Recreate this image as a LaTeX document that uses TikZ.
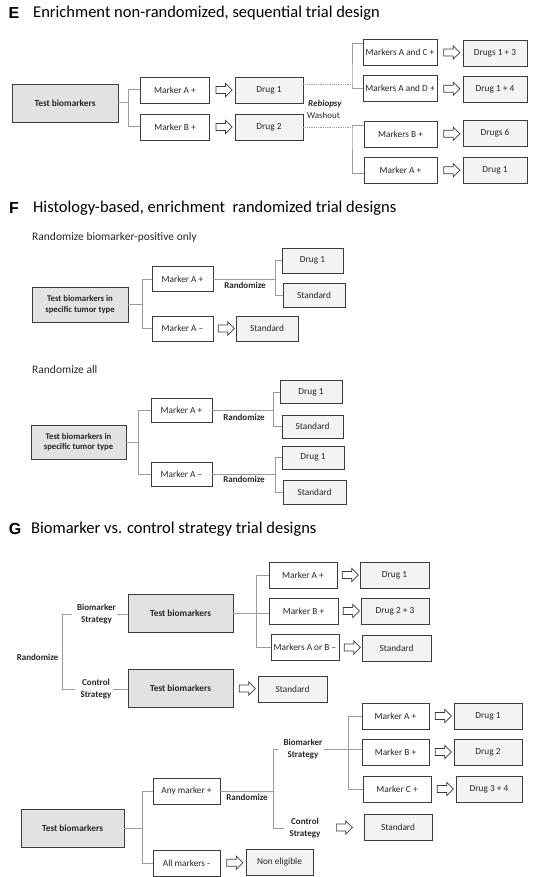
\documentclass[tikz,border=0pt]{standalone}
\usepackage{fontspec}
\setmainfont{Carlito}
\newfontfamily\tagfont{Liberation Sans}
\usetikzlibrary{shapes.arrows,calc}

\definecolor{edge}{HTML}{3C3C3C}
\definecolor{lgray}{HTML}{9C9C9C}
\definecolor{tfill}{HTML}{E2E2E2}
\definecolor{dfill}{HTML}{F3F3F3}
\definecolor{txt}{HTML}{262626}

\begin{document}
\begin{tikzpicture}[x=1pt,y=-1pt,
  box/.style={draw=edge,line width=0.8pt,minimum height=26pt,inner sep=1pt,text=txt,font=\fontsize{9.3}{10.5}\selectfont},
  mbox/.style={box,fill=white,minimum width=68pt},
  dbox/.style={box,fill=dfill,minimum width=66pt},
  tbox/.style={box,fill=tfill,align=center,font=\bfseries\fontsize{9.3}{11}\selectfont},
  lbl/.style={inner sep=1pt,align=center,text=txt,font=\bfseries\fontsize{9}{12}\selectfont},
  arr/.style={single arrow,draw=edge,fill=white,line width=0.7pt,inner xsep=0pt,inner ysep=3.2pt,
    minimum height=16pt,single arrow head extend=3pt},
  link/.style={draw=lgray,line width=1pt},
  dots/.style={draw=lgray,line width=0.8pt,densely dotted},
  tag/.style={inner sep=0pt,font=\tagfont\bfseries\fontsize{16}{18}\selectfont},
  ttl/.style={anchor=west,inner sep=0pt,font=\fontsize{16.5}{18}\selectfont},
  sub/.style={anchor=west,inner sep=0pt,text=txt,font=\fontsize{11.5}{13}\selectfont}]

\useasboundingbox (0,0) rectangle (534,877);

% E: enrichment, sequential
\node[tag] (tE) at (14,13) {E};
\node[ttl] (hE) at (33,13) {Enrichment non-randomized, sequential trial design};

\node[tbox,minimum width=106pt,minimum height=38pt] (eT) at (65,103) {Test biomarkers};
\node[mbox,minimum width=69pt] (eMA) at (175,90) {Marker A +};
\node[mbox,minimum width=69pt] (eMB) at (175,127) {Marker B +};
\node[dbox,minimum width=68pt] (eD1) at (269,90) {Drug 1};
\node[dbox,minimum width=68pt] (eD2) at (269,127) {Drug 2};
\node[mbox,minimum width=74pt] (eMAC) at (400,52) {Markers A and C +};
\node[mbox,minimum width=74pt] (eMAD) at (400,88.5) {Markers A and D +};
\node[mbox,minimum width=73pt] (eMB2) at (400.5,134) {Markers B +};
\node[mbox,minimum width=73pt] (eMA2) at (400.5,170) {Marker A +};
\node[dbox,minimum width=64pt] (eD13) at (495,53) {Drugs 1 + 3};
\node[dbox,minimum width=64pt] (eD14) at (495,89) {Drug 1 + 4};
\node[dbox,minimum width=64pt] (eD6) at (495,133.5) {Drugs 6};
\node[dbox,minimum width=64pt] (eD1b) at (495,170.5) {Drug 1};
\node[anchor=west,inner sep=0pt,text=txt,font=\bfseries\itshape\fontsize{9}{10}\selectfont] (eReb) at (308,104) {Rebiopsy};
\node[anchor=west,inner sep=0pt,text=txt,font=\fontsize{9}{10}\selectfont] (eWash) at (307,115) {Washout};

\draw[link] (eT.east) -- ++(10,0) coordinate (eJ);
\draw[link] (eJ) |- (eMA.west) (eJ) |- (eMB.west);
\draw[dots] ([yshift=6pt]eD1.east) -- (352,84) coordinate (eK1);
\draw[link] ([yshift=8pt]eMAC.west) -| (eK1) |- (eMAD.west);
\draw[dots] (eD2.east) -- (352,127) coordinate (eK2);
\draw[link] ([yshift=8pt]eMB2.west) -| (eK2) |- ([yshift=-4pt]eMA2.west);

% F: histology-based, randomized
\node[tag] (tF) at (14,208) {F};
\node[ttl] (hF) at (33,208) {Histology-based, enrichment\ \ randomized trial designs};
\node[sub] (sF1) at (32,237) {Randomize biomarker-positive only};

\node[tbox,minimum width=96pt,minimum height=35pt,font=\bfseries\fontsize{8.7}{10.5}\selectfont] (fT1) at (80,304.5) {Test biomarkers in\\specific tumor type};
\node[mbox,minimum width=61pt,minimum height=25pt] (fMA1) at (182.5,279) {Marker A +};
\node[mbox,minimum width=61pt,minimum height=25pt] (fMAm1) at (182.5,328.5) {Marker A \textendash};
\node[dbox,minimum width=61pt,minimum height=25pt] (fD1) at (312.5,260.5) {Drug 1};
\node[dbox,minimum width=62pt,minimum height=24pt] (fS1) at (314,295) {Standard};
\node[dbox,minimum width=62pt,minimum height=25pt] (fS2) at (267,328.5) {Standard};
\node[lbl] (fR1) at (245,285) {Randomize};

\draw[link] (fT1.east) -- ++(14,0) coordinate (fJ1);
\draw[link] (fJ1) |- (fMA1.west) (fJ1) |- (fMAm1.west);
\draw[link] (fMA1.east) -- ++(62,0) coordinate (fK1);
\draw[link] (fK1) |- (fD1.west) (fK1) |- (fS1.west);

\node[sub] (sF2) at (32,370) {Randomize all};

\node[tbox,minimum width=95pt,minimum height=34pt,font=\bfseries\fontsize{8.7}{10.5}\selectfont] (fT2) at (78.5,442) {Test biomarkers in\\specific tumor type};
\node[mbox,minimum width=61pt,minimum height=24pt] (fMA2) at (181.5,410) {Marker A +};
\node[mbox,minimum width=61pt,minimum height=24pt] (fMAm2) at (181.5,474) {Marker A \textendash};
\node[dbox,minimum width=62pt,minimum height=23pt] (fD2) at (311,392) {Drug 1};
\node[dbox,minimum width=61pt,minimum height=23pt] (fS3) at (312.5,426.5) {Standard};
\node[dbox,minimum width=62pt,minimum height=23pt] (fD3) at (313,457.5) {Drug 1};
\node[dbox,minimum width=63pt,minimum height=24pt] (fS4) at (314.5,492) {Standard};
\node[lbl] (fR2) at (244,417) {Randomize};
\node[lbl] (fR3) at (244,479) {Randomize};

\draw[link] (fT2.east) -- ++(12,0) coordinate (fJ2);
\draw[link] (fJ2) |- (fMA2.west) (fJ2) |- (fMAm2.west);
\draw[link] (fMA2.east) -- ++(61,0) coordinate (fK2);
\draw[link] (fK2) |- (fD2.west) (fK2) |- (fS3.west);
\draw[link] (fMAm2.east) -- ++(63,0) coordinate (fK3);
\draw[link] (fK3) |- (fD3.west) (fK3) |- (fS4.west);

% G: biomarker vs. control strategy
\node[tag] (tG) at (15,529) {G};
\node[ttl] (hG) at (31,529) {Biomarker vs. control strategy trial designs};

\node[lbl] (gRand) at (37.5,657) {Randomize};
\node[lbl] (gBS) at (96.5,614) {Biomarker\\Strategy};
\node[lbl] (gCS) at (96,689) {Control\\Strategy};
\node[tbox,minimum width=105pt,minimum height=38pt] (gT1) at (180.5,613) {Test biomarkers};
\node[tbox,minimum width=105pt,minimum height=38pt] (gT2) at (180.5,688) {Test biomarkers};
\node[dbox,minimum width=69pt] (gS0) at (292.5,689) {Standard};
\node[mbox,minimum width=68pt] (gMA) at (303,575) {Marker A +};
\node[mbox,minimum width=69pt] (gMB) at (303.5,611) {Marker B +};
\node[mbox,minimum width=68pt] (gMAB) at (305,647) {Markers A or B \textendash};
\node[dbox,minimum width=69pt] (gD1) at (394.5,575) {Drug 1};
\node[dbox,minimum width=68pt] (gD23) at (395,611) {Drug 2 + 3};
\node[dbox,minimum width=69pt] (gS1) at (396.5,648) {Standard};

\draw[link] ([xshift=-4pt]gBS.west) -- ++(-9,0) |- ([xshift=-4pt]gCS.west);
\draw[link] (gBS.east) -- (gBS.east -| gT1.west);
\draw[link] (gCS.east) -- (gCS.east -| gT2.west);
\draw[link] (gT1.east) -- (gT1.east -| gMB.west);
\draw[link] (gMA.west) -- ++(-12,0) |- (gMAB.west);

\node[tbox,minimum width=103pt,minimum height=38pt] (gT3) at (72.5,828) {Test biomarkers};
\node[mbox,minimum width=67pt] (gAny) at (186.5,791) {Any marker +};
\node[mbox,minimum width=67pt] (gAll) at (186.5,863) {All markers -};
\node[dbox,minimum width=67pt] (gNon) at (279.5,862.5) {Non eligible};
\node[lbl] (gR2) at (247,797) {Randomize};
\node[lbl] (gBS2) at (303,749.5) {Biomarker\\Strategy};
\node[lbl] (gCS2) at (305,828) {Control\\Strategy};
\node[mbox,minimum width=67pt] (gMA2) at (395.5,716) {Marker A +};
\node[mbox,minimum width=67pt] (gMB2) at (395.5,752) {Marker B +};
\node[mbox,minimum width=68pt] (gMC2) at (397,789) {Marker C +};
\node[dbox,minimum width=68pt] (gD1b) at (488,716) {Drug 1};
\node[dbox,minimum width=68pt] (gD2) at (488,752) {Drug 2};
\node[dbox,minimum width=66pt] (gD34) at (489,789) {Drug 3 + 4};
\node[dbox,minimum width=68pt] (gS2) at (398,827) {Standard};

\draw[link] (gT3.east) -- ++(18,0) coordinate (gJ);
\draw[link] (gJ) |- (gAny.west) (gJ) |- (gAll.west);
\draw[link] (gAny.east) -- ++(53,0) coordinate (gK2);
\draw[link] (gK2) |- ([xshift=-4pt]gBS2.west) (gK2) |- ([xshift=-4pt]gCS2.west);
\draw[link] (gBS2.east) -- (gBS2.east -| gMB2.west);
\draw[link] (gMA2.west) -- ++(-13,0) |- (gMC2.west);

% hollow block arrows between the boxes
\foreach \a/\b in {eMA/eD1, eMB/eD2, eMAC/eD13, eMAD/eD14, eMB2/eD6, eMA2/eD1b,
    fMAm1/fS2, gT2/gS0, gMA/gD1, gMB/gD23, gMAB/gS1,
    gMA2/gD1b, gMB2/gD2, gMC2/gD34, gCS2/gS2, gAll/gNon} {
  \node[arr] (ar-\a) at ($(\a.east)!0.5!(\b.west)$) {};
}

\end{tikzpicture}
\end{document}
